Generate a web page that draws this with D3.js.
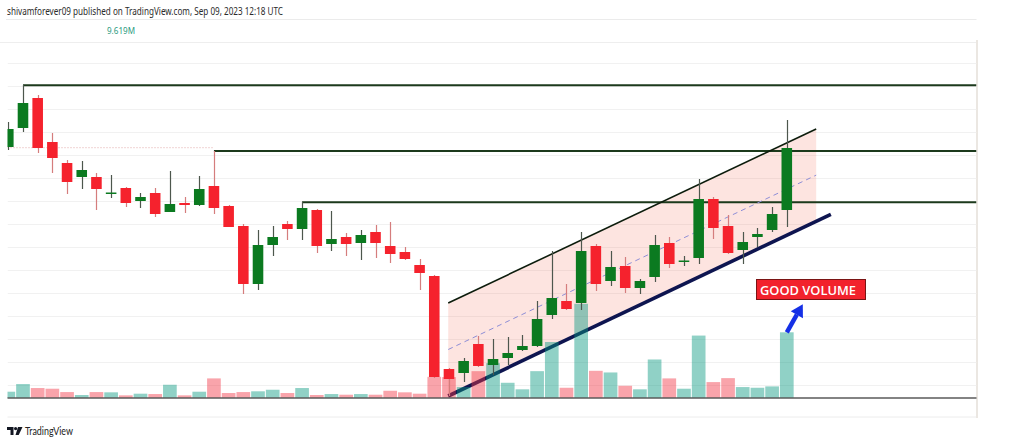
<!DOCTYPE html>
<html><head><meta charset="utf-8">
<script src="https://cdn.jsdelivr.net/npm/d3@7"></script>
<style>html,body{margin:0;padding:0;background:#fff;}svg{display:block;}</style>
</head><body>
<svg id="c" width="1024" height="441"></svg>
<script>
// ---- data (price units, volume in millions) ----
const open  = [303,322,352,308,287,273,273,256.5,262,249,257,238,247,245,264,244,224,166,205,226,221,240,206,213,207,218,204,198,185,174,81,77,106,85,92,100,104,135,149,147,204,169,184,162,173,207,188,192,251,224,200,213,220,240];
const close = [321,347,302,292,268,280,261,257.5,247,253,236,246,245,261,242,223,166,205,213,221,242,204,211,206,215,207,196,191,177,73,71,89,84,91,97,104,131,152,141,199,166,183,162,169,205,186,189.5,251,222,197,208,216,236,302];
const high  = [328,365,355,317,290,289,277,275,263,257,262,279,253,274,299,245,226,220,224,229,248,241,239,217,220,225,228,203,191,175,82,92,114,111,113,115,149,199,166,218,206,199,193,171,215,213,194,271,253,235,218,222,243,330];
const low   = [300,318,297,277,256,261,240,252,243,242,233,238,237,244,236,223,156,160,194,210,210,197,199,194,190,192,187,190,160,72,54,68,83,75,85,99,103,131,140,140,159,164,157,156,168,182,184,186,211,196,186,203,218,223];
const volume = [0.92,2.04,1.46,1.36,0.87,0.44,0.87,0.83,0.39,0.63,0.58,1.94,0.39,0.92,2.87,0.73,0.87,0.98,1.21,0.73,1.46,0.44,0.58,0.48,0.58,0.48,1.06,0.83,0.63,3.10,3.06,1.60,3.93,5.10,2.23,1.27,3.93,8.20,1.50,13.80,3.98,3.74,1.79,1.27,5.64,2.87,1.36,9.14,2.33,2.91,1.60,1.50,1.70,9.619];
const resistance = [{from:1, price:364.7},{from:14, price:299},{from:20, price:247.7}];
const prevCloseLevel = {to:14, price:302.3};
const channelUpper = [{i:29.95, p:147},{i:55, p:321}];
const channelLower = [{i:29.95, p:54},{i:56, p:235.7}];
const volumeLabel = "9.619M";
const header = "shivamforever09 published on TradingView.com, Sep 09, 2023 12:18 UTC";
const annotation = "GOOD VOLUME";

const svg = d3.select("#c");
const W = 1024, H = 441;
svg.append("rect").attr("width",W).attr("height",H).attr("fill","#fff");

const L = 7.5, R = 976.5, T = 42.5, B = 398;
const idx = d3.range(open.length);
const x = d3.scaleLinear().domain([0, 53]).range([8.3, 786.8]);
const step = x(1) - x(0);
const y = d3.scaleLinear().domain([52, 410]).range([398, 40]);
const v = d3.scaleLinear().domain([0, 14]).range([398, 398 - 14*6.83]);

// header
svg.append("text").attr("x",7).attr("y",14.5).attr("font-family","Noto Sans, Open Sans, sans-serif")
  .attr("font-size",11.2).attr("fill","#2a2a2a").attr("textLength",276).attr("lengthAdjust","spacingAndGlyphs").text(header);

// frame
const frame = svg.append("g").attr("fill","none");
frame.append("line").attr("x1",6).attr("x2",R).attr("y1",19.5).attr("y2",19.5).attr("stroke","#ebebeb");
frame.append("line").attr("x1",0).attr("x2",R).attr("y1",T).attr("y2",T).attr("stroke","#eeeeee");
frame.append("line").attr("x1",L).attr("x2",R).attr("y1",417).attr("y2",417).attr("stroke","#ececec");
frame.append("line").attr("x1",977).attr("x2",977).attr("y1",40).attr("y2",418).attr("stroke","#ebe7e2").attr("stroke-width",2);
svg.append("text").attr("x",107).attr("y",34).attr("font-family","Noto Sans, Open Sans, sans-serif").attr("font-size",8.8)
  .attr("fill","#2a9a80").attr("textLength",28).attr("lengthAdjust","spacingAndGlyphs").text(volumeLabel);

svg.append("defs").append("clipPath").attr("id","clip").append("rect")
  .attr("x",L).attr("y",T).attr("width",R-L).attr("height",B-T);
const g = svg.append("g").attr("clip-path","url(#clip)");

// gridlines
g.selectAll(".grid").data(d3.range(63, 398, 23)).join("line")
  .attr("x1",L).attr("x2",R).attr("y1",d=>d+0.5).attr("y2",d=>d+0.5).attr("stroke","#f1f1f1");

// channel fill
const xe = i => x(i);
const lerp = (pts, i) => pts[0].p + (pts[1].p - pts[0].p) * (i - pts[0].i) / (pts[1].i - pts[0].i);
const i0 = channelUpper[0].i, i1 = channelUpper[1].i;
const poly = [[xe(i0), y(lerp(channelUpper,i0))],[xe(i1), y(lerp(channelUpper,i1))],[xe(i1), y(lerp(channelLower,i1))],[xe(i0), y(lerp(channelLower,i0))]];
g.append("path").attr("d", d3.line()(poly) + "Z").attr("fill","rgba(245,120,100,0.2)");

// prev close dotted
g.append("line").attr("x1",L).attr("x2",x(prevCloseLevel.to)).attr("y1",y(prevCloseLevel.price)).attr("y2",y(prevCloseLevel.price))
  .attr("stroke","#e0a8a8").attr("stroke-width",1).attr("stroke-dasharray","1,2");

// resistance lines
g.selectAll(".res").data(resistance).join("line")
  .attr("x1",d=>x(d.from)).attr("x2",R).attr("y1",d=>y(d.price)).attr("y2",d=>y(d.price))
  .attr("stroke","#1c3a1c").attr("stroke-width",2);

// channel lines
const mid = [{i:i0, p:(lerp(channelUpper,i0)+lerp(channelLower,i0))/2},{i:i1, p:(lerp(channelUpper,i1)+lerp(channelLower,i1))/2}];
g.append("line").attr("x1",xe(mid[0].i)).attr("y1",y(mid[0].p)).attr("x2",xe(mid[1].i)).attr("y2",y(mid[1].p))
  .attr("stroke","#8e8ed6").attr("stroke-width",1).attr("stroke-dasharray","5,4");
g.append("line").attr("x1",xe(channelUpper[0].i)).attr("y1",y(channelUpper[0].p)).attr("x2",xe(channelUpper[1].i)).attr("y2",y(channelUpper[1].p))
  .attr("stroke","#0c1c0c").attr("stroke-width",1.6);
g.append("line").attr("x1",xe(channelLower[0].i)).attr("y1",y(channelLower[0].p)).attr("x2",xe(channelLower[1].i)).attr("y2",y(channelLower[1].p))
  .attr("stroke","#0e1550").attr("stroke-width",3.6);

// volume bars
g.selectAll(".vol").data(idx).join("rect")
  .attr("x",i=>x(i)-step/2+0.5).attr("width",step-1)
  .attr("y",i=>v(volume[i])).attr("height",i=>v(0)-v(volume[i]))
  .attr("fill",i=>close[i]>=open[i]?"rgba(8,153,129,0.45)":"rgba(242,54,69,0.45)");

// candles
const up = i => close[i] >= open[i];
const cw = step*0.72;
g.selectAll(".wick").data(idx).join("line")
  .attr("x1",i=>Math.round(x(i))+0.5).attr("x2",i=>Math.round(x(i))+0.5)
  .attr("y1",i=>y(high[i])).attr("y2",i=>y(low[i]))
  .attr("stroke",i=>up(i)?"#4d574d":"#d57d7d").attr("stroke-width",1.2);
g.selectAll(".body").data(idx).join("rect")
  .attr("x",i=>x(i)-cw/2).attr("width",cw)
  .attr("y",i=>y(Math.max(open[i],close[i])))
  .attr("height",i=>Math.max(1.5, Math.abs(y(open[i])-y(close[i]))))
  .attr("fill",i=>up(i)?"#0b7a20":"#f5222d");

// bottom axis line
svg.append("line").attr("x1",L).attr("x2",R).attr("y1",B).attr("y2",B).attr("stroke","#5a5a5a").attr("stroke-width",1.5);

// annotation arrow
const ax = x(53), ay = v(volume[53]);
const tip = [ax+16, ay-28];
const dx = tip[0]-ax, dy = tip[1]-ay, len = Math.hypot(dx,dy), ux = dx/len, uy = dy/len, px = -uy, py = ux;
const hb = [tip[0]-12*ux, tip[1]-12*uy];
svg.append("line").attr("x1",ax).attr("y1",ay).attr("x2",hb[0]).attr("y2",hb[1]).attr("stroke","#1530e6").attr("stroke-width",4.5);
svg.append("path").attr("d", d3.line()([tip,[hb[0]+7*px,hb[1]+7*py],[hb[0]-7*px,hb[1]-7*py]])+"Z").attr("fill","#1530e6");

// label
svg.append("rect").attr("x",756.5).attr("y",279.5).attr("width",109).attr("height",20).attr("fill","#f2222c").attr("stroke","#7a1414");
svg.append("text").attr("x",760).attr("y",295).attr("font-family","Open Sans, sans-serif").attr("font-size",13).attr("font-weight",600)
  .attr("fill","#fff").attr("textLength",96).attr("lengthAdjust","spacingAndGlyphs").text(annotation);

// TradingView logo
const lg = svg.append("g").attr("fill","#131722");
lg.append("path").attr("d","M7,427 h6.5 v8 h-3 v-5 h-3.5 z");
lg.append("circle").attr("cx",15.6).attr("cy",428.6).attr("r",1.6);
lg.append("path").attr("d","M18,427 h4.5 l-3.8,8 h-3.2 z");
svg.append("text").attr("x",25).attr("y",434.5).attr("font-family","Lato, sans-serif").attr("font-size",12)
  .attr("fill","#222").attr("textLength",48).attr("lengthAdjust","spacingAndGlyphs").text("TradingView");
</script>
</body></html>
